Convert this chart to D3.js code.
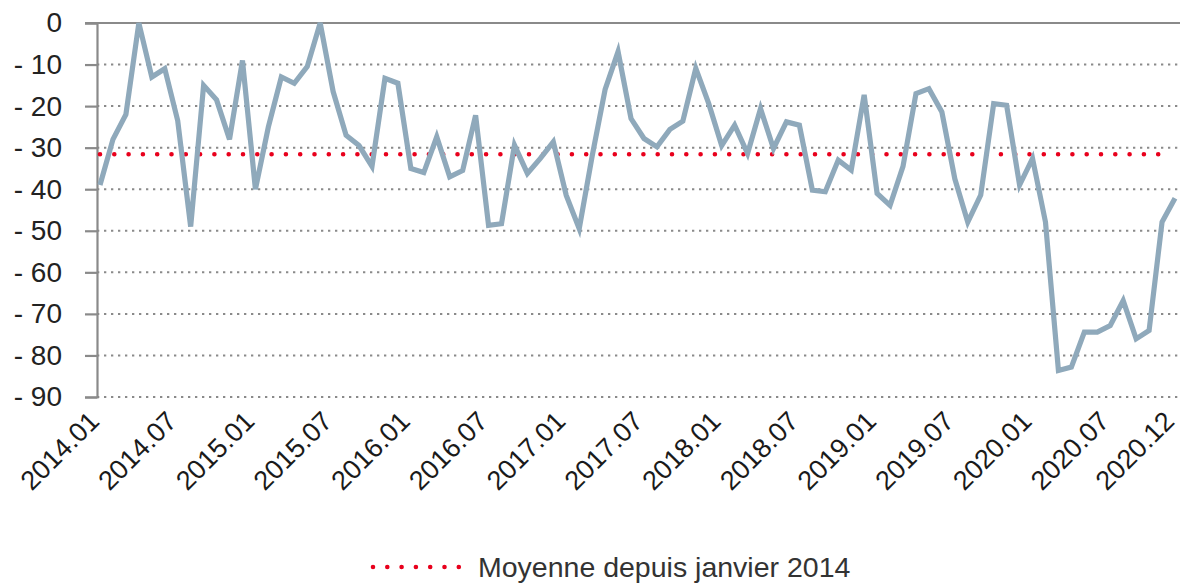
<!DOCTYPE html>
<html>
<head>
<meta charset="utf-8">
<script src="https://cdn.jsdelivr.net/npm/d3@7"></script>
<style>
  html, body { margin: 0; padding: 0; background: #fff; }
  svg { display: block; font-family: "Liberation Sans", Arial, sans-serif; }
</style>
</head>
<body>
<svg id="chart" width="1181" height="583"></svg>
<script>
// ---- Data ----
const months = [];
for (let y = 2014; y <= 2020; y++) for (let m = 1; m <= 12; m++) months.push(y + "." + String(m).padStart(2, "0"));

const values = [
  -39, -28, -22, 0, -13, -11, -23.5, -49, -15, -18.5, -28, -9,
  -40, -25, -13, -14.5, -10.5, 0, -16.5, -27, -29.5, -34.5, -13.3, -14.5,
  -35, -36, -27.4, -37, -35.5, -22.2, -48.7, -48.3, -29.4, -36.2, -32.6, -28.6,
  -41.5, -49.5, -32, -16, -6.9, -23, -27.8, -29.8, -25.6, -23.6, -10.9, -19.4,
  -29.5, -24.6, -31.4, -20.6, -30.2, -23.8, -24.6, -40.2, -40.6, -33, -35.4, -17.3,
  -41, -43.9, -34.5, -17, -15.8, -21.4, -37.5, -47.9, -41.4, -19.4, -19.8, -39,
  -32.6, -47.9, -83.6, -82.8, -74.4, -74.4, -72.8, -66.8, -76, -74, -47.9, -42.2
];

const average = -31.6;
const yTicks = [0, -10, -20, -30, -40, -50, -60, -70, -80, -90];
const xTickLabels = ["2014.01","2014.07","2015.01","2015.07","2016.01","2016.07","2017.01",
  "2017.07","2018.01","2018.07","2019.01","2019.07","2020.01","2020.07","2020.12"];
const legendLabel = "Moyenne depuis janvier 2014";

// ---- Layout ----
const svg = d3.select("#chart");
const axisX = 97, plotRight = 1180;
const x = d3.scalePoint().domain(months).range([100, 1175]);
const y = d3.scaleLinear().domain([-90, 0]).range([397, 23]);

const lineColor = "#8fa9bb";
const red = "#e8001c";
const gridColor = "#8a8a8a";

// gridlines
svg.append("g").selectAll("line").data(yTicks.filter(d => d !== 0)).join("line")
  .attr("x1", axisX).attr("x2", plotRight)
  .attr("y1", d => y(d)).attr("y2", d => y(d))
  .attr("stroke", gridColor).attr("stroke-width", 2)
  .attr("stroke-dasharray", "2.3,4.7");

// top solid line
svg.append("line")
  .attr("x1", 85).attr("x2", plotRight)
  .attr("y1", y(0)).attr("y2", y(0))
  .attr("stroke", "#8a8a8a").attr("stroke-width", 2.2);

// y axis
const yAxis = d3.axisLeft(y).tickValues(yTicks).tickSize(12).tickPadding(23)
  .tickFormat(d => d === 0 ? "0" : "- " + Math.abs(d));
const gy = svg.append("g").attr("transform", `translate(${axisX},0)`).call(yAxis);
gy.select(".domain").attr("stroke", "#8a8a8a").attr("stroke-width", 2.2);
gy.selectAll(".tick line").attr("stroke", "#8a8a8a").attr("stroke-width", 2.2);
gy.selectAll(".tick text").attr("font-size", 28).attr("fill", "#222")
  .attr("font-family", "'Liberation Sans', Arial, sans-serif");

// x labels
const gx = svg.append("g");
gx.selectAll("text").data(xTickLabels).join("text")
  .attr("transform", d => `translate(${x(d) - 13},${409}) rotate(-45)`)
  .attr("text-anchor", "end")
  .attr("dy", "0.72em")
  .attr("font-size", 27)
  .attr("fill", "#1a1a1a")
  .text(d => d);

// average line
svg.append("line")
  .attr("x1", x(months[0])).attr("x2", 1165)
  .attr("y1", y(average)).attr("y2", y(average))
  .attr("stroke", red).attr("stroke-width", 4.6)
  .attr("stroke-linecap", "round")
  .attr("stroke-dasharray", "0,14.3");

// data line
const line = d3.line().x((d, i) => x(months[i])).y(d => y(d));
svg.append("path").datum(values)
  .attr("d", line)
  .attr("fill", "none")
  .attr("stroke", lineColor)
  .attr("stroke-width", 5.2)
  .attr("stroke-linejoin", "miter");

// legend
const lg = svg.append("g").attr("transform", "translate(0,567)");
lg.append("line").attr("x1", 373).attr("x2", 460).attr("y1", 0).attr("y2", 0)
  .attr("stroke", red).attr("stroke-width", 4.6)
  .attr("stroke-linecap", "round").attr("stroke-dasharray", "0,14.3");
lg.append("text").attr("x", 478).attr("y", 0).attr("dy", "0.36em")
  .attr("font-size", 28.5).attr("fill", "#333").text(legendLabel);
</script>
</body>
</html>
